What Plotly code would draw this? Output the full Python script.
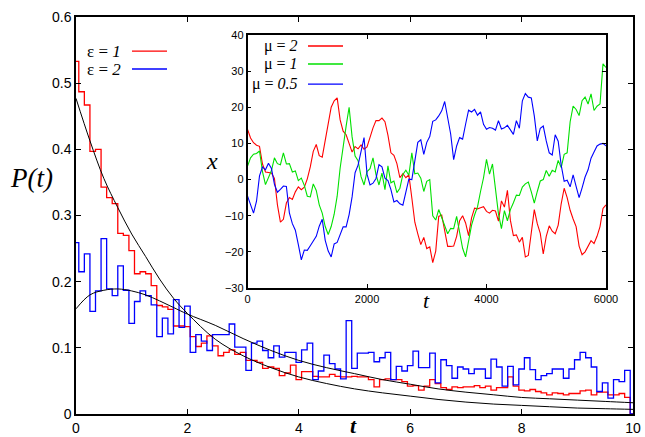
import numpy as np
import plotly.graph_objects as go

# ---------------- main panel data ----------------
t_bins = np.round(np.arange(0, 10.001, 0.1), 1)

p_eps1 = [0.533, 0.487, 0.467, 0.397, 0.400, 0.343, 0.327, 0.318, 0.273, 0.270,
          0.247, 0.212, 0.215, 0.212, 0.194, 0.164, 0.162, 0.158, 0.133, 0.133,
          0.132, 0.117, 0.102, 0.107, 0.118, 0.103, 0.088, 0.093, 0.097, 0.090,
          0.093, 0.081, 0.081, 0.078, 0.069, 0.071, 0.069, 0.058, 0.062, 0.074,
          0.052, 0.064, 0.064, 0.057, 0.056, 0.056, 0.060, 0.057, 0.056, 0.056,
          0.057, 0.056, 0.056, 0.052, 0.041, 0.052, 0.053, 0.052, 0.052, 0.049,
          0.042, 0.043, 0.036, 0.042, 0.052, 0.046, 0.040, 0.037, 0.041, 0.040,
          0.041, 0.041, 0.043, 0.040, 0.042, 0.036, 0.040, 0.040, 0.056, 0.042,
          0.036, 0.035, 0.037, 0.034, 0.032, 0.029, 0.032, 0.031, 0.029, 0.031,
          0.031, 0.035, 0.036, 0.029, 0.033, 0.033, 0.029, 0.029, 0.031, 0.025,
          0.0]

p_eps2 = [0.259, 0.215, 0.242, 0.155, 0.186, 0.265, 0.189, 0.179, 0.224, 0.187,
          0.137, 0.170, 0.186, 0.179, 0.165, 0.117, 0.145, 0.121, 0.173, 0.131,
          0.163, 0.093, 0.120, 0.110, 0.096, 0.120, 0.120, 0.120, 0.136, 0.101,
          0.101, 0.066, 0.107, 0.110, 0.096, 0.085, 0.103, 0.086, 0.093, 0.093,
          0.078, 0.097, 0.107, 0.052, 0.065, 0.089, 0.076, 0.068, 0.053, 0.141,
          0.069, 0.092, 0.092, 0.093, 0.079, 0.085, 0.093, 0.052, 0.072, 0.065,
          0.073, 0.095, 0.070, 0.070, 0.092, 0.047, 0.082, 0.073, 0.054, 0.071,
          0.068, 0.061, 0.068, 0.068, 0.054, 0.083, 0.071, 0.042, 0.072, 0.044,
          0.068, 0.085, 0.067, 0.052, 0.058, 0.061, 0.068, 0.068, 0.054, 0.068,
          0.082, 0.093, 0.085, 0.071, 0.034, 0.047, 0.024, 0.052, 0.049, 0.066,
          0.0]

t_curve = [0, 0.25, 0.5, 0.75, 1, 1.25, 1.5, 1.75, 2, 2.5, 3, 3.5, 4, 4.5, 5,
           5.5, 6, 6.5, 7, 7.5, 8, 8.5, 9, 9.5, 10]
fit_eps1 = [0.477, 0.413, 0.356, 0.312, 0.272, 0.238, 0.204, 0.175, 0.152, 0.113,
            0.088, 0.070, 0.056, 0.046, 0.038, 0.032, 0.027, 0.022, 0.018, 0.015,
            0.013, 0.011, 0.009, 0.008, 0.007]
fit_eps2 = [0.159, 0.180, 0.187, 0.189, 0.186, 0.180, 0.171, 0.161, 0.151, 0.134,
            0.114, 0.096, 0.081, 0.070, 0.061, 0.052, 0.045, 0.038, 0.033, 0.029,
            0.025, 0.023, 0.021, 0.019, 0.017]

main_xticks = [0, 2, 4, 6, 8, 10]
main_yticks = [0, 0.1, 0.2, 0.3, 0.4, 0.5, 0.6]
main_yticklabels = ["0", "0.1", "0.2", "0.3", "0.4", "0.5", "0.6"]

# ---------------- inset data ----------------
t_walk = np.arange(0, 6001, 50)

x_mu2 = [13.9, 11.5, 10.2, 9.5, 9.2, 4.3, 2.1, 2.0, 1.8, 0.3,
         -7, -11.8, -11, -6.5, -5, -5.5, -3.4, -2.0, -2.8, -2.1,
         0.2, 3.5, 7.8, 9.7, 6.6, 6.2, 11.2, 16.2, 20, 21.8,
         22.6, 16.5, 13.4, 12.4, 10, 7.6, 9.1, 8.5, 9.6, 8.4,
         9,
         11.9, 14.3, 16.3, 16.3, 17, 16, 12.3, 7.4, 6.7, 4.4,
         0.5, 1.6, 0.5, 1.3, -5.1, -11.8, -15, -18, -16, -19.1,
         -18.6, -23, -19.8, -10.2, -9.8, -14, -18.5, -18.5, -18.4, -15.7,
         -11.4, -10, -12, -15.5, -10.6, -7.9, -8.1, -7.8, -7.5, -8.8,
         -9.3, -8.5, -8.7, -11.5, -5.9, -7.6, -3, -11.3, -15.5, -15.3,
         -17.3, -16, -21.4, -21, -15.3, -8.3, -12.2, -14.9, -20.6, -15.7,
         -12.8, -14.3, -15, -12.6, -6.7, -2.4, -5, -8.5, -10.9, -13,
         -18.4, -20.8, -20, -18.6, -16.9, -17.7, -15.7, -13, -8, -7]

x_mu1 = [3.7, 6, 7, 7.2, 7.9, 2.2, -1.4, 0.8, 2.5, 6,
         4.4, 4.1, 7.4, 4.3, 4.4, 2.1, 2.4, -0.3, 0.4, -1.6,
         -4.6, -4.8, -1.2, -3, -7, -9.3, -13, -15.2, -13, -9.6,
         -4.6, 3.2, 9.8, 14.8, 20, 11.8, 6.5, 5.2, 0.8, -1.5,
         2.2,
         3, 6, 1.4, -1.5, 1.8, -2.8, 3.8, -0.9, -0.4, -3.6,
         -2.4, 1.4, 2.6, 1.2, 7.4, 1.6, 1.8, 0.4, -3.3, -0.5,
         0, -10, -11.2, -8.3, -10.4, -12.5, -15, -13.5, -13.6, -10.2,
         -14.9, -19, -21.4, -16.5, -12.6, -9.8, -7.5, -3.3, 0.5, 5.6,
         1.5, 4.3, -2.5, -9.5, -13.6, -8.6, -11.4, -8.3, -6.4, -4.3,
         -4.4, -2.1, -1.2, -0.7, -3.4, -6.5, -3.3, -0.4, 0, 2.5,
         0.9, 2.6, 2.1, 5.3, 3.3, 7, 7.4, 16, 20.3, 19.4,
         17.7, 21.8, 22.8, 20.9, 23.7, 19.1, 20.3, 20.9, 32, 31]

x_mu05 = [-4.6, -7, -9.3, -6, 1, 3.5, 2.7, 4.5, 3.1, -1.3,
          -3.5, -2.7, -1.8, -1.9, -9.2, -12.2, -14, -18, -22.2, -19.5,
          -19.6, -18.3, -16.9, -15.7, -12.9, -11, -16.8, -19.8, -21.4, -17.8,
          -17.4, -15.2, -13.1, -13.1, -9.7, -4.8, 1.9, 4, 8, 11.6,
          1.5,
          -1.5, -1, 0.3, 4.1, 3.5, 0.4, -0.3, -2.8, -6.2, -5.8,
          -6.7, -7.1, -3.2, 0.1, 0, 4.9, 10.3, 11, 7, 10.3,
          11.9, 16.1, 16.5, 17.6, 19, 21.6, 17, 12.6, 5.5, 9.3,
          11.6, 11.2, 15.3, 19.2, 18.7, 19.4, 17.8, 18.7, 15.3, 13.9,
          14.4, 14.2, 13.7, 16.3, 14, 14.3, 15, 13.9, 12.5, 16.3,
          14.2, 21.8, 23.8, 22.8, 22.6, 17.6, 10.7, 14.2, 14.8, 10.7,
          7.4, 6.8, 12.4, 10.6, 4, -0.5, -0.2, -2, 1.3, -1.9,
          -5, -2.3, 0.7, 2.7, 5.9, 7.6, 9.3, 9.8, 10, 9.3]

inset_xticks = [0, 2000, 4000, 6000]
inset_yticks = [-30, -20, -10, 0, 10, 20, 30, 40]

RED = "#ff0000"
BLUE = "#0000ff"
GREEN = "#00e000"
SERIF = "Liberation Serif, Times New Roman, serif"
SANS = "Liberation Sans, Arial, sans-serif"

fig = go.Figure()

fig.add_trace(go.Scatter(x=t_bins, y=p_eps1, mode="lines", line_shape="hvh",
                         line=dict(color=RED, width=1.3), xaxis="x", yaxis="y"))
fig.add_trace(go.Scatter(x=t_bins, y=p_eps2, mode="lines", line_shape="hvh",
                         line=dict(color=BLUE, width=1.3), xaxis="x", yaxis="y"))
fig.add_trace(go.Scatter(x=t_curve, y=fit_eps1, mode="lines", line_shape="spline",
                         line=dict(color="black", width=1), xaxis="x", yaxis="y"))
fig.add_trace(go.Scatter(x=t_curve, y=fit_eps2, mode="lines", line_shape="spline",
                         line=dict(color="black", width=1), xaxis="x", yaxis="y"))

fig.add_trace(go.Scatter(x=t_walk, y=x_mu2, mode="lines",
                         line=dict(color=RED, width=1.1), xaxis="x2", yaxis="y2"))
fig.add_trace(go.Scatter(x=t_walk, y=x_mu1, mode="lines",
                         line=dict(color=GREEN, width=1.1), xaxis="x2", yaxis="y2"))
fig.add_trace(go.Scatter(x=t_walk, y=x_mu05, mode="lines",
                         line=dict(color=BLUE, width=1.1), xaxis="x2", yaxis="y2"))

axis_common = dict(showgrid=False, zeroline=False, showline=True, linecolor="black",
                   linewidth=1.5, mirror="allticks", ticks="inside", tickcolor="black",
                   automargin=False)

fig.update_layout(
    width=645, height=437, autosize=False,
    margin=dict(l=76, r=12, t=17, b=23, autoexpand=False),
    paper_bgcolor="white", plot_bgcolor="white",
    showlegend=False,
    xaxis=dict(domain=[0, 1], range=[0, 10], tickvals=main_xticks, ticklen=5,
               tickfont=dict(family=SANS, size=14, color="black"), **axis_common),
    yaxis=dict(domain=[0, 1], range=[0, 0.6], tickvals=main_yticks,
               ticktext=main_yticklabels, ticklen=5,
               tickfont=dict(family=SANS, size=14, color="black"), **axis_common),
    xaxis2=dict(domain=[0.308, 0.9515], range=[0, 6000], anchor="y2",
                tickvals=inset_xticks, ticklen=4,
                tickfont=dict(family=SANS, size=11, color="black"), **axis_common),
    yaxis2=dict(domain=[0.3174, 0.9547], range=[-30, 40], anchor="x2",
                tickvals=inset_yticks, ticklen=4,
                tickfont=dict(family=SANS, size=11, color="black"), **axis_common),
)

fig.add_shape(type="rect", xref="x2 domain", yref="y2 domain", x0=0, x1=1, y0=0, y1=1,
              fillcolor="white", line=dict(width=0), layer="below")

ann = []
ann.append(dict(text="<i>P(t)</i>", x=-0.079, y=0.5945, xref="paper", yref="paper",
                xanchor="center", yanchor="middle",
                showarrow=False, font=dict(family=SERIF, size=27, color="black")))
ann.append(dict(text="<b><i>t</i></b>", x=0.499, y=-0.030, xref="paper", yref="paper",
                xanchor="center", yanchor="middle",
                showarrow=False, font=dict(family=SERIF, size=22, color="black")))
ann.append(dict(text="<i>x</i>", x=0.244, y=0.637, xref="paper", yref="paper",
                xanchor="center", yanchor="middle",
                showarrow=False, font=dict(family=SERIF, size=24, color="black")))
ann.append(dict(text="<i>t</i>", x=0.630, y=0.287, xref="paper", yref="paper",
                xanchor="center", yanchor="middle",
                showarrow=False, font=dict(family=SERIF, size=22, color="black")))

legend_main = [("ε = <i>1</i>", RED, 0.914), ("ε = <i>2</i>", BLUE, 0.869)]
for txt, col, yy in legend_main:
    ann.append(dict(text=txt, x=0.0844, y=yy, xref="paper", yref="paper",
                    xanchor="right", yanchor="middle",
                    showarrow=False, font=dict(family=SERIF, size=17, color="black")))
    fig.add_shape(type="line", xref="paper", yref="paper", x0=0.1005, x1=0.1634, y0=yy, y1=yy,
                  line=dict(color=col, width=1.3))

legend_inset = [("μ = <i>2</i>", RED, 0.927), ("μ = <i>1</i>", GREEN, 0.8816),
                ("μ = <i>0.5</i>", BLUE, 0.831)]
for txt, col, yy in legend_inset:
    ann.append(dict(text=txt, x=0.402, y=yy, xref="paper", yref="paper",
                    xanchor="right", yanchor="middle",
                    showarrow=False, font=dict(family=SERIF, size=16, color="black")))
    fig.add_shape(type="line", xref="paper", yref="paper", x0=0.4165, x1=0.4794, y0=yy, y1=yy,
                  line=dict(color=col, width=1.3))

fig.update_layout(annotations=ann)

fix_size = ("document.body.style.margin='0px';"
            "document.body.style.overflow='hidden';")
fig.write_html("out.html", config={"displayModeBar": False},
               post_script=fix_size)
